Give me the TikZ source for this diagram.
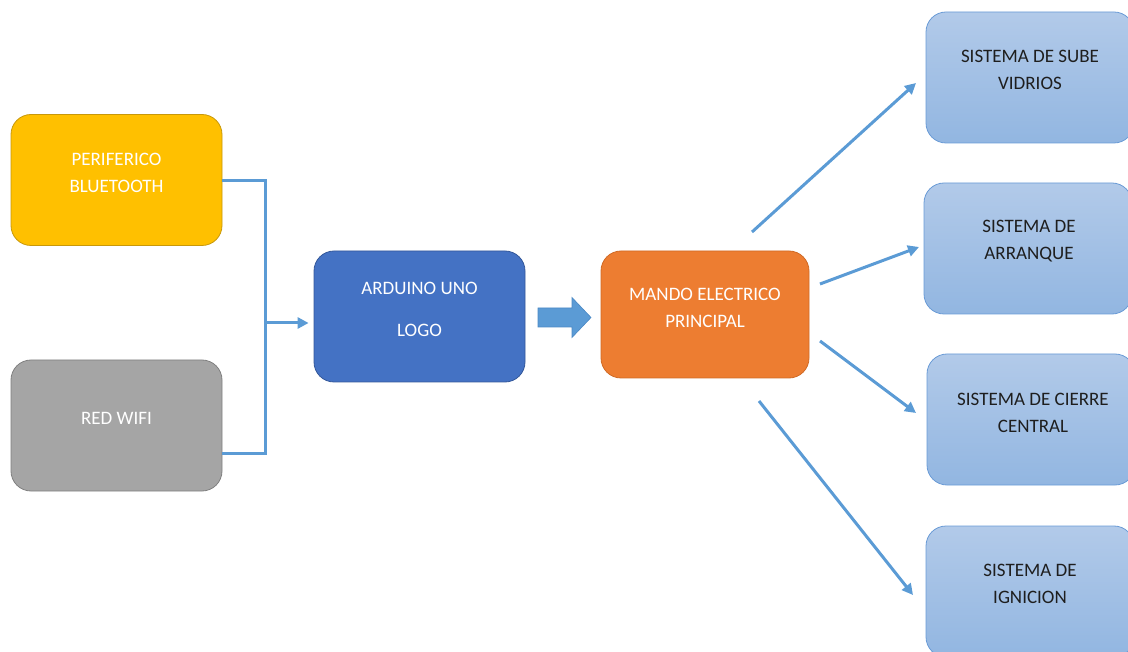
\documentclass[tikz,border=0pt]{standalone}
\usepackage{fontspec}
\setmainfont{Carlito}
\usetikzlibrary{arrows.meta}
\definecolor{cYel}{HTML}{FFC000}
\definecolor{cYelD}{HTML}{C8980A}
\definecolor{cGry}{HTML}{A5A5A5}
\definecolor{cGryD}{HTML}{808080}
\definecolor{cBlu}{HTML}{4472C4}
\definecolor{cBluD}{HTML}{34589A}
\definecolor{cOrg}{HTML}{ED7D31}
\definecolor{cOrgD}{HTML}{D06A25}
\definecolor{cLtTop}{HTML}{B2CAE9}
\definecolor{cLtBot}{HTML}{92B6E1}
\definecolor{cLtD}{HTML}{6A9BD6}
\definecolor{cLine}{HTML}{5B9BD5}
\definecolor{cArrD}{HTML}{4A88C4}
\definecolor{cTxt}{HTML}{1E1E1E}
\tikzset{
  box/.style={rounded corners=20pt, line width=0.8pt, minimum width=211pt, minimum height=131pt, inner sep=0pt},
  rbox/.style={box, minimum width=208pt, draw=cLtD, top color=cLtTop, bottom color=cLtBot},
  wtxt/.style={text=white, align=center, font=\fontsize{19}{27}\selectfont},
  dtxt/.style={text=cTxt, align=center, font=\fontsize{19}{27}\selectfont},
  conn/.style={draw=cLine, line width=3pt},
  arr/.style={conn, -{Triangle[length=11pt,width=11pt]}},
}
\begin{document}
\begin{tikzpicture}[x=1pt,y=-1pt]
\useasboundingbox (0,0) rectangle (1128,652);
\clip (0,0) rectangle (1128,652);
% left boxes
\node[box, fill=cYel, draw=cYelD] (bt) at (116.5,180) {};
\node[wtxt] (btt) at (116.5,172.5) {PERIFERICO\\BLUETOOTH};
\node[box, fill=cGry, draw=cGryD] (wf) at (116.5,425.5) {};
\node[wtxt] (wft) at (116.5,418) {RED WIFI};
% arduino
\node[box, fill=cBlu, draw=cBluD] (ard) at (419.5,316.5) {};
\node[wtxt] (ardt) at (419.5,309) {ARDUINO UNO\\[15pt]LOGO};
% mando
\node[box, fill=cOrg, draw=cOrgD, minimum width=208pt, minimum height=127pt] (md) at (705,314.5) {};
\node[wtxt] (mdt) at (705,307.5) {MANDO ELECTRICO\\PRINCIPAL};
% right boxes
\node[rbox] (s1) at (1030,77.5) {};
\node[dtxt] (s1t) at (1030,70) {SISTEMA DE SUBE\\VIDRIOS};
\node[rbox] (s2) at (1028,248.5) {};
\node[dtxt] (s2t) at (1029,241.5) {SISTEMA DE\\ARRANQUE};
\node[rbox] (s3) at (1031,419.5) {};
\node[dtxt] (s3t) at (1033,412.5) {SISTEMA DE CIERRE\\CENTRAL};
\node[rbox] (s4) at (1030,591.5) {};
\node[dtxt] (s4t) at (1030,584) {SISTEMA DE\\IGNICION};
% merge connector
\coordinate (j) at (265,323);
\draw[conn] (bt.east |- 0,181) -| (j) |- (wf.east |- 0,453);
\draw[arr] (j) -- (ard.west |- j) [shorten >=5pt];
% block arrow
\draw[fill=cLine, draw=cArrD, line width=0.6pt] (538,308) -- (572,308) -- (572,297.5) -- (591,317.5) -- (572,337.5) -- (572,327) -- (538,327) -- cycle;
% fan-out arrows
\coordinate (a1) at (752,232); \coordinate (e1) at (916,83);
\coordinate (a2) at (820,284); \coordinate (e2) at (919,247);
\coordinate (a3) at (820,341); \coordinate (e3) at (916,413);
\coordinate (a4) at (759,401); \coordinate (e4) at (913,595);
\draw[arr] (a1) -- (e1);
\draw[arr] (a2) -- (e2);
\draw[arr] (a3) -- (e3);
\draw[arr] (a4) -- (e4);
\end{tikzpicture}
\end{document}
